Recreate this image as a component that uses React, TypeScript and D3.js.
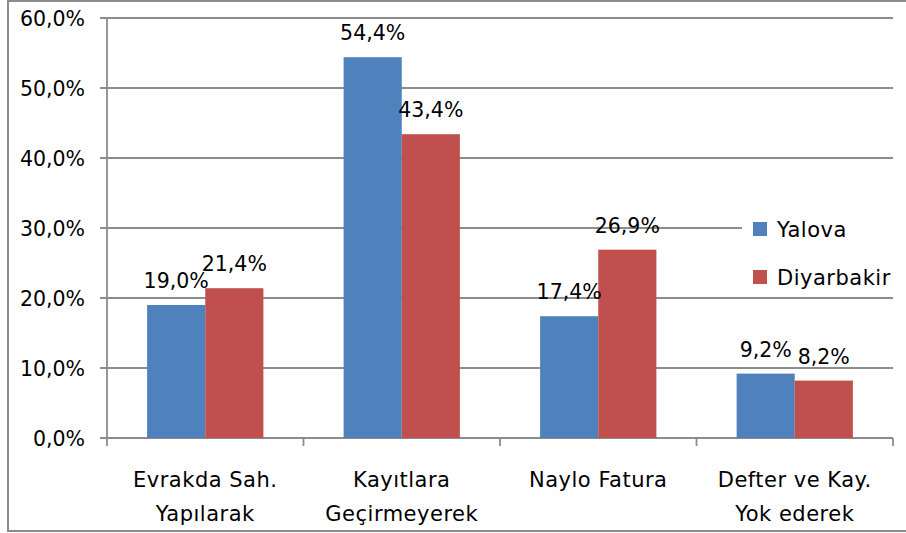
import { useEffect, useRef } from "react";
import * as d3 from "d3";

const categories = [
  ["Evrakda Sah.", "Yapılarak"],
  ["Kayıtlara", "Geçirmeyerek"],
  ["Naylo Fatura"],
  ["Defter ve Kay.", "Yok ederek"],
];
const seriesNames = ["Yalova", "Diyarbakir"];
const yalova = [19.0, 54.4, 17.4, 9.2];
const diyarbakir = [21.4, 43.4, 26.9, 8.2];
const yTicks = [0, 10, 20, 30, 40, 50, 60];
const colors = ["#4F81BD", "#C0504D"];

export default function App() {
  const ref = useRef<SVGSVGElement | null>(null);
  const width = 906;
  const height = 533;
  const plot = { left: 107, right: 893, top: 18, bottom: 438 };
  const font = "DejaVu Sans";
  const gray = "#8c8c8c";

  useEffect(() => {
    const svg = d3.select(ref.current);
    svg.selectAll("*").remove();

    const fmt = (v: number) => v.toFixed(1).replace(".", ",") + "%";
    const keys = categories.map((c) => c.join(" "));

    // outer frame
    svg
      .append("rect")
      .attr("x", 8)
      .attr("y", 1)
      .attr("width", 910)
      .attr("height", 530)
      .attr("fill", "white")
      .attr("stroke", gray)
      .attr("stroke-width", 2);

    const x0 = d3.scaleBand().domain(keys).range([plot.left, plot.right]).padding(0);
    const x1 = d3
      .scaleBand()
      .domain(seriesNames)
      .range([0, x0.bandwidth()])
      .paddingInner(0)
      .paddingOuter(0.69);
    const y = d3.scaleLinear().domain([0, 60]).range([plot.bottom, plot.top]);

    // gridlines + y labels
    yTicks.forEach((t) => {
      svg
        .append("line")
        .attr("x1", plot.left - 7)
        .attr("x2", plot.right)
        .attr("y1", y(t))
        .attr("y2", y(t))
        .attr("stroke", gray)
        .attr("stroke-width", 1.8);
      svg
        .append("text")
        .attr("x", 85)
        .attr("y", y(t) + 8)
        .attr("text-anchor", "end")
        .attr("font-family", font)
        .attr("font-size", 20.5)
        .attr("fill", "#000")
        .text(fmt(t));
    });

    // y axis
    svg
      .append("line")
      .attr("x1", plot.left)
      .attr("x2", plot.left)
      .attr("y1", plot.top)
      .attr("y2", plot.bottom)
      .attr("stroke", gray)
      .attr("stroke-width", 1.8);

    // x tick marks at category boundaries
    keys.concat(["end"]).forEach((k, i) => {
      const xx = i < keys.length ? (x0(k) as number) : plot.right;
      svg
        .append("line")
        .attr("x1", xx)
        .attr("x2", xx)
        .attr("y1", plot.bottom)
        .attr("y2", plot.bottom + 8)
        .attr("stroke", gray)
        .attr("stroke-width", 1.8);
    });

    // bars
    const seriesData = [yalova, diyarbakir];
    seriesData.forEach((vals, si) => {
      vals.forEach((v, ci) => {
        const bx = (x0(keys[ci]) as number) + (x1(seriesNames[si]) as number);
        svg
          .append("rect")
          .attr("x", bx)
          .attr("y", y(v))
          .attr("width", x1.bandwidth())
          .attr("height", plot.bottom - y(v))
          .attr("fill", colors[si]);
      });
    });
    // value labels on top
    seriesData.forEach((vals, si) => {
      vals.forEach((v, ci) => {
        const bx = (x0(keys[ci]) as number) + (x1(seriesNames[si]) as number);
        svg
          .append("text")
          .attr("x", bx + x1.bandwidth() / 2)
          .attr("y", y(v) - 17)
          .attr("text-anchor", "middle")
          .attr("font-family", font)
          .attr("font-size", 20.5)
          .attr("fill", "#000")
          .text(fmt(v));
      });
    });

    // category labels
    categories.forEach((lines, ci) => {
      const cx = (x0(keys[ci]) as number) + x0.bandwidth() / 2;
      lines.forEach((ln, li) => {
        svg
          .append("text")
          .attr("x", cx)
          .attr("y", 487 + li * 34)
          .attr("text-anchor", "middle")
          .attr("font-family", font)
          .attr("font-size", 21)
          .attr("letter-spacing", 0.5)
          .attr("fill", "#000")
          .text(ln);
      });
    });

    // legend with white box
    svg
      .append("rect")
      .attr("x", 742)
      .attr("y", 202)
      .attr("width", 160)
      .attr("height", 92)
      .attr("fill", "white");
    seriesNames.forEach((name, i) => {
      const ly = 222 + i * 48;
      svg
        .append("rect")
        .attr("x", 753)
        .attr("y", ly)
        .attr("width", 14)
        .attr("height", 14)
        .attr("fill", colors[i]);
      svg
        .append("text")
        .attr("x", 777)
        .attr("y", ly + 15)
        .attr("font-family", font)
        .attr("font-size", 21)
        .attr("letter-spacing", 0.5)
        .attr("fill", "#000")
        .text(name);
    });
  }, []);

  return (
    <svg
      ref={ref}
      width={width}
      height={height}
      style={{ position: "absolute", left: 0, top: 0 }}
    />
  );
}
